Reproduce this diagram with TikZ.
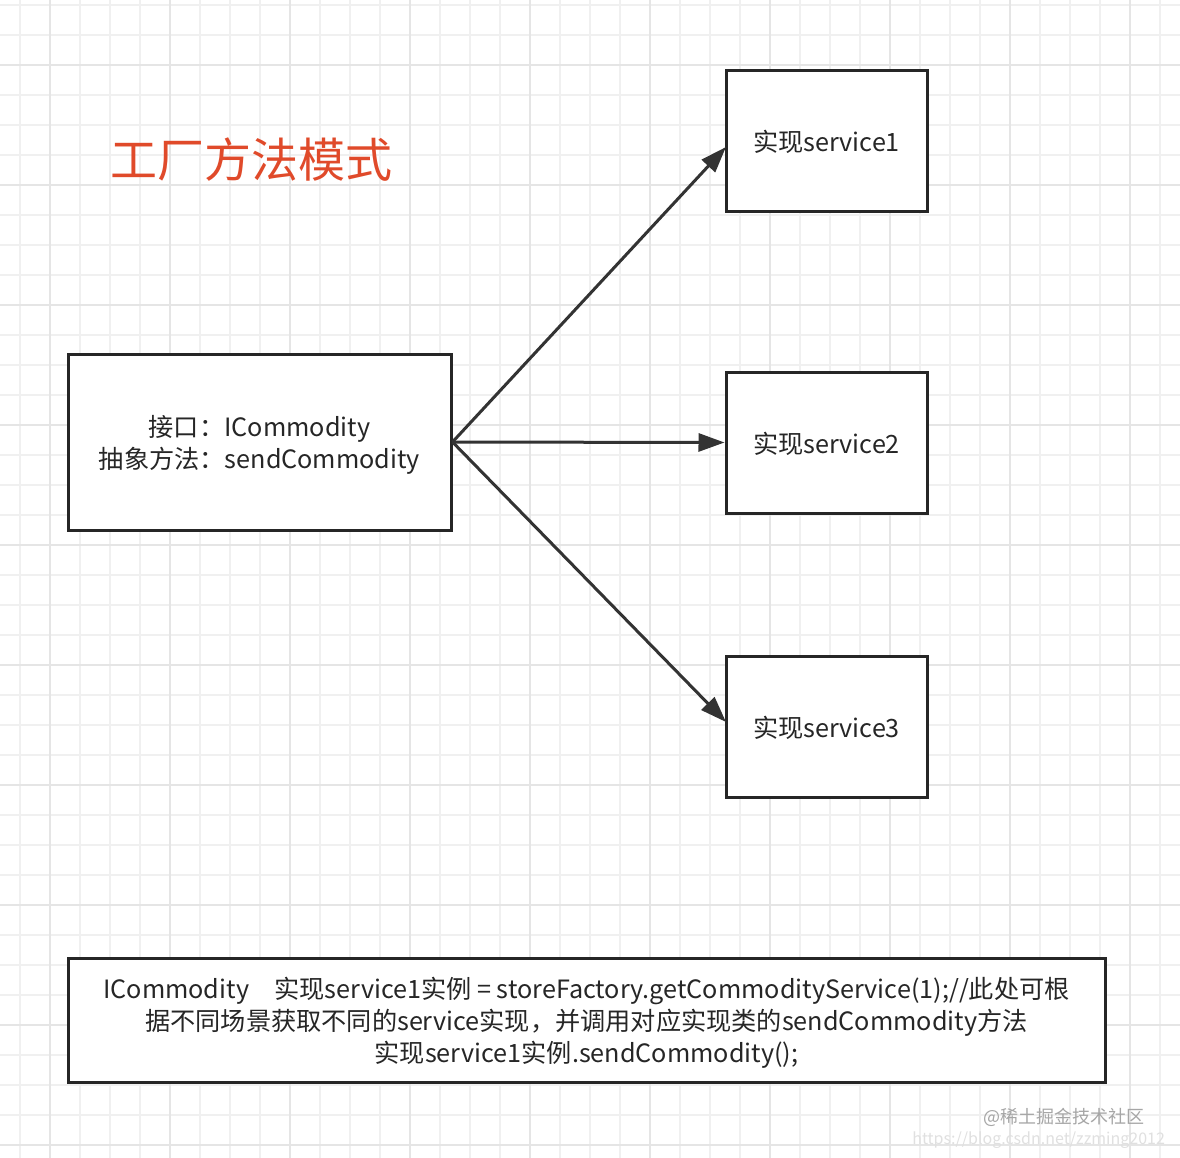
\documentclass[tikz,border=0pt]{standalone}
\usepackage{fontspec}
\setmainfont{Noto Sans CJK SC}
\usetikzlibrary{arrows.meta}
\definecolor{titlered}{HTML}{E04A2A}
\begin{document}
\begin{tikzpicture}[x=0.5pt,y=-0.5pt,
  box/.style={draw=black!85,line width=1.5pt,fill=white,inner sep=0pt},
  conn/.style={draw=black!80,line width=1.5pt,-{Triangle[length=13pt,width=9pt]}},
  lbl/.style={font=\fontsize{12.6}{16}\selectfont,text=black!85,align=center,text depth=-2pt}]
\fill[white] (0,0) rectangle (1180,1158);
\useasboundingbox (0,0) rectangle (1180,1158);
\foreach \x in {20,50,...,1180} \draw[black!6,line width=0.8pt] (\x,0) -- (\x,1158);
\foreach \y in {5,35,...,1158} \draw[black!6,line width=0.8pt] (0,\y) -- (1180,\y);
\foreach \x in {50,170,...,1180} \draw[black!10,line width=1pt] (\x,0) -- (\x,1158);
\foreach \y in {65,185,...,1158} \draw[black!10,line width=1pt] (0,\y) -- (1180,\y);
\node[text=titlered,font=\fontsize{23.5}{28}\selectfont] (title) at (252,160) {工厂方法模式};
\node[box,minimum width=191.5pt,minimum height=88pt,lbl] (src) at (259.5,442) {接口：ICommodity\\抽象方法：sendCommodity};
\node[box,minimum width=100.5pt,minimum height=70.5pt,lbl] (s1) at (826.5,140.5) {实现service1};
\node[box,minimum width=100.5pt,minimum height=70.5pt,lbl] (s2) at (826.5,442.5) {实现service2};
\node[box,minimum width=100.5pt,minimum height=70.5pt,lbl] (s3) at (826.5,726.5) {实现service3};
\coordinate (e1) at (726,147);
\coordinate (e3) at (726,722);
\draw[conn] (src.east) -- (e1);
\draw[conn] (src.east) -- (s2.west);
\draw[conn] (src.east) -- (e3);
\node[box,minimum width=518.5pt,minimum height=62pt,lbl] (bot) at (586.5,1020) {ICommodity\quad 实现service1实例 = storeFactory.getCommodityService(1);//此处可根\\据不同场景获取不同的service实现，并调用对应实现类的sendCommodity方法\\实现service1实例.sendCommodity();};
\node[text=black!35,font=\fontsize{9}{10}\selectfont,anchor=east] (wm1) at (1152,1117) {@稀土掘金技术社区};
\node[text=black!12,font=\fontsize{8}{9}\selectfont,anchor=east] (wm2) at (1172,1140) {https://blog.csdn.net/zzming2012};
\end{tikzpicture}
\end{document}
